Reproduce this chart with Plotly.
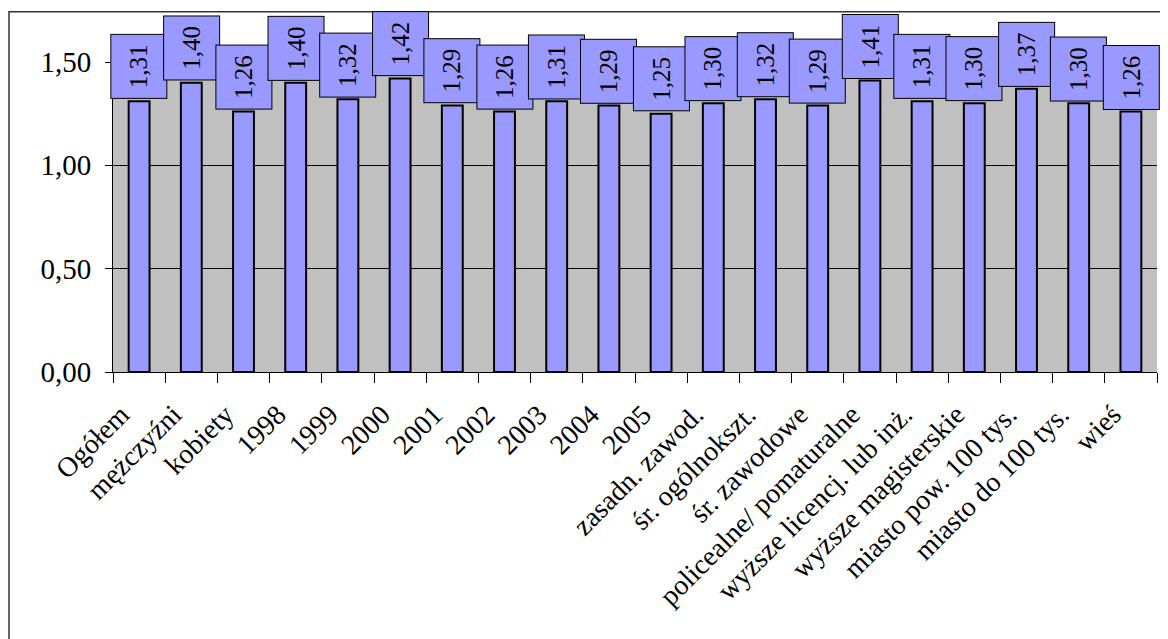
import plotly.graph_objects as go

categories = ["Ogółem", "mężczyźni", "kobiety", "1998", "1999", "2000", "2001", "2002",
              "2003", "2004", "2005", "zasadn. zawod.", "śr. ogólnokszt.", "śr. zawodowe",
              "policealne/ pomaturalne", "wyższe licencj. lub inż.", "wyższe magisterskie",
              "miasto pow. 100 tys.", "miasto do 100 tys.", "wieś"]
values = [1.31, 1.40, 1.26, 1.40, 1.32, 1.42, 1.29, 1.26, 1.31, 1.29,
          1.25, 1.30, 1.32, 1.29, 1.41, 1.31, 1.30, 1.37, 1.30, 1.26]
y_ticks = [0.0, 0.5, 1.0, 1.5]

FONT = "Liberation Serif"
BAR = "#9999FF"

fig = go.Figure()
fig.add_trace(go.Bar(
    x=categories, y=values,
    marker=dict(color=BAR, line=dict(color="black", width=2)),
    width=0.4, hoverinfo="skip",
))

annotations = []
for i, v in enumerate(values):
    annotations.append(dict(
        x=i, y=v, xref="x", yref="y",
        text=f"{v:.2f}".replace(".", ","),
        showarrow=False, textangle=-90,
        width=63, height=55, borderpad=0,
        bgcolor=BAR, bordercolor="black", borderwidth=1,
        font=dict(family=FONT, size=25, color="black"),
        xanchor="center", yanchor="bottom", yshift=2,
    ))

fig.update_layout(
    width=1160, height=631,
    margin=dict(l=105, r=11, t=54, b=267),
    paper_bgcolor="white", plot_bgcolor="#C0C0C0",
    separators=", ",
    showlegend=False,
    annotations=annotations,
    font=dict(family=FONT, color="black"),
    xaxis=dict(
        type="category", tickson="boundaries",
        range=[-0.5, len(categories) - 0.5], autorange=False,
        ticks="outside", ticklen=10, tickcolor="black", tickwidth=1,
        showline=True, linecolor="black", linewidth=1,
        showgrid=False, tickangle=-45,
        tickfont=dict(family=FONT, size=28, color="black"),
        ticklabelshift=-18, ticklabelstandoff=14,
    ),
    yaxis=dict(
        range=[0, 1.5], autorange=False, tickvals=y_ticks, tickformat=".2f",
        ticks="outside", ticklen=7, tickcolor="black",
        showline=True, linecolor="black", linewidth=1,
        showgrid=True, gridcolor="black", gridwidth=1,
        zeroline=False,
        tickfont=dict(family=FONT, size=29, color="black"),
        ticklabelstandoff=8,
    ),
    shapes=[dict(type="rect", xref="paper", yref="paper",
                 x0=-0.0996, x1=1.03, y0=-0.95, y1=1.162,
                 line=dict(color="#333333", width=1.5), fillcolor="rgba(0,0,0,0)",
                 layer="below")],
)

fig.write_html("out.html")
